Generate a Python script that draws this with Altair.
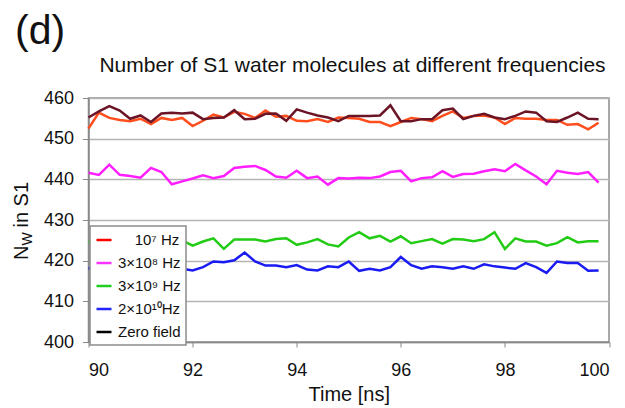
import altair as alt
import pandas as pd

# ---------------- data ----------------
times = [90.0, 90.2, 90.4, 90.6, 90.8, 91.0, 91.2, 91.4, 91.6, 91.8,
         92.0, 92.2, 92.4, 92.6, 92.8, 93.0, 93.2, 93.4, 93.6, 93.8,
         94.0, 94.2, 94.4, 94.6, 94.8, 95.0, 95.2, 95.4, 95.6, 95.8,
         96.0, 96.2, 96.4, 96.6, 96.8, 97.0, 97.2, 97.4, 97.6, 97.8,
         98.0, 98.2, 98.4, 98.6, 98.8, 99.0, 99.2, 99.4, 99.6, 99.8]

f_1e7 = [452.5, 456.4, 455.1, 454.6, 454.3, 454.9, 453.6, 455.1, 454.6, 455.1,
         453.1, 454.4, 455.9, 455.2, 456.6, 456.1, 455.1, 456.9, 455.4, 455.6,
         454.4, 454.3, 454.8, 454.1, 455.2, 455.1, 454.9, 454.1, 454.1, 453.1,
         454.1, 455.1, 454.8, 454.3, 455.6, 456.7, 455.1, 455.6, 455.7, 455.2,
         453.6, 455.1, 454.9, 454.9, 454.6, 454.6, 453.4, 453.6, 452.3, 453.9]

f_3e8 = [441.6, 441.1, 443.6, 441.1, 440.8, 440.4, 442.8, 441.8, 438.8, 439.5,
         440.2, 441.0, 440.3, 440.8, 442.8, 443.1, 443.3, 442.3, 440.7, 440.4,
         442.1, 440.3, 440.7, 438.7, 440.3, 440.2, 440.4, 440.3, 440.7, 441.8,
         442.1, 439.5, 440.3, 440.5, 442.0, 440.6, 441.3, 441.4, 442.0, 442.5,
         442.0, 443.8, 442.2, 440.7, 438.8, 442.1, 441.6, 441.3, 441.8, 439.2]

f_3e9 = [424.5, 425.3, 424.0, 425.6, 424.8, 423.9, 425.1, 424.6, 425.8, 425.0,
         423.7, 424.7, 425.5, 422.9, 425.2, 425.2, 425.2, 424.7, 425.3, 425.5,
         423.9, 424.5, 425.3, 424.0, 423.5, 425.7, 427.0, 425.5, 426.1, 424.7,
         426.0, 424.3, 424.8, 425.3, 424.2, 425.3, 425.2, 424.8, 425.3, 427.0,
         422.9, 425.5, 424.7, 424.7, 423.7, 424.3, 425.8, 424.5, 424.8, 424.8]

f_2e10 = [418.2, 417.6, 418.9, 418.0, 419.2, 417.9, 418.5, 417.7, 418.4, 418.0,
          417.6, 418.4, 419.8, 419.6, 420.1, 422.0, 419.8, 418.8, 418.8, 418.4,
          418.9, 417.8, 417.6, 418.6, 418.4, 419.8, 417.5, 418.0, 417.6, 418.4,
          420.9, 418.9, 418.0, 418.6, 418.4, 418.0, 418.6, 418.0, 419.1, 418.6,
          418.3, 418.0, 419.4, 418.4, 417.0, 419.8, 419.4, 419.4, 417.5, 417.6]

zero_field = [455.2, 456.7, 458.0, 456.9, 454.9, 455.7, 454.1, 456.2, 456.4, 456.2,
              456.4, 454.8, 455.1, 455.2, 457.0, 454.8, 454.9, 456.1, 456.2, 454.4,
              457.2, 456.4, 455.7, 455.2, 454.3, 455.6, 455.6, 455.6, 455.7, 458.2,
              454.3, 454.3, 454.8, 454.8, 457.0, 457.4, 454.8, 455.6, 456.1, 455.2,
              454.8, 455.6, 456.7, 456.4, 454.3, 454.1, 455.2, 456.4, 454.9, 454.8]

# zero-width space + figure spaces keep the first label right-aligned like the original
PAD = "\u200b\u2007\u2007"
series_names = [PAD + "10\u2077 Hz", "3\u00d710\u2078 Hz", "3\u00d710\u2079 Hz",
                "2\u00d710\u00b9\u2070Hz", "Zero field"]
series_values = [f_1e7, f_3e8, f_3e9, f_2e10, zero_field]
line_colors = ["#FF4E1E", "#FF1EFF", "#22CC14", "#1A1AF2", "#6B1426"]
legend_colors = ["#FF0000", "#FF33FF", "#22CC22", "#2222FF", "#000000"]

x_ticks = [90, 92, 94, 96, 98, 100]
y_ticks = [400, 410, 420, 430, 440, 450, 460]

rows = []
for k, (name, vals) in enumerate(zip(series_names, series_values)):
    for t, v in zip(times, vals):
        rows.append({"t": t, "n": v, "series": name, "k": k})
df = pd.DataFrame(rows)

FONT = "Liberation Sans"

x_enc = alt.X("t:Q", scale=alt.Scale(domain=[90, 100], nice=False, zero=False),
              axis=alt.Axis(values=x_ticks, grid=False, tickSize=5, labelPadding=14,
                            labelFontSize=18, labelFont=FONT, labelColor="#111",
                            title="Time [ns]", titleFontSize=20, titleFont=FONT,
                            titleFontWeight="normal", titleColor="#111", titlePadding=5,
                            domainColor="#888", tickColor="#888", domainWidth=1.5))
y_enc = alt.Y("n:Q", scale=alt.Scale(domain=[400, 460], nice=False, zero=False),
              axis=alt.Axis(values=y_ticks, grid=True, gridColor="#b4b4b4", gridWidth=1.5,
                            tickSize=6, labelPadding=9, labelFontSize=18, labelFont=FONT,
                            labelColor="#111", title=None, domainColor="#888",
                            tickColor="#888", domainWidth=1.5))

base = alt.Chart(df)

lines = base.mark_line(strokeWidth=2.5).encode(
    x=x_enc, y=y_enc,
    color=alt.Color("series:N", scale=alt.Scale(domain=series_names, range=line_colors),
                    legend=None),
    order="t:Q",
)

legend_layer = base.transform_filter("datum.t == 90").mark_line(strokeWidth=2.5).encode(
    x=x_enc, y=y_enc,
    color=alt.Color("series:N", scale=alt.Scale(domain=series_names, range=legend_colors),
                    legend=alt.Legend(title=None, orient="none", legendX=1.5, legendY=128,
                                      fillColor="white", strokeColor="#8c8c8c",
                                      padding=5, symbolType="stroke", symbolSize=225,
                                      symbolStrokeWidth=2.5, symbolOpacity=1,
                                      labelFontSize=15, labelFont=FONT, labelColor="#111",
                                      labelOffset=5, rowPadding=6, labelLimit=0)),
)


def txt(s, x, y, size, angle=0, align="left", color="#111"):
    return alt.Chart(pd.DataFrame({"s": [s]})).mark_text(
        font=FONT, fontSize=size, angle=angle, align=align, baseline="alphabetic",
        color=color,
    ).encode(x=alt.value(x), y=alt.value(y), text="s:N")


panel = txt("(d)", -73.5, -54, 41)
title = txt("Number of S1 water molecules at different frequencies", 264, -26, 21,
            align="center")
ytitle_n = txt("N", -60.5, 162, 20, angle=270)
ytitle_w = txt("W", -57, 147.6, 14, angle=270)
ytitle_rest = txt("in S1", -60.5, 129.5, 20, angle=270)

chart = alt.layer(lines, legend_layer, panel, title, ytitle_n, ytitle_w, ytitle_rest).resolve_scale(
    color="independent"
).properties(
    width=520.5, height=244,
    autosize=alt.AutoSizeParams(type="none"),
    padding={"left": 88.5, "top": 98, "right": 16, "bottom": 66},
).configure_view(stroke="#8c8c8c", strokeWidth=1.5).configure_legend(strokeWidth=1.5)

chart.save("out.html", embed_options={"renderer": "svg", "actions": False})
